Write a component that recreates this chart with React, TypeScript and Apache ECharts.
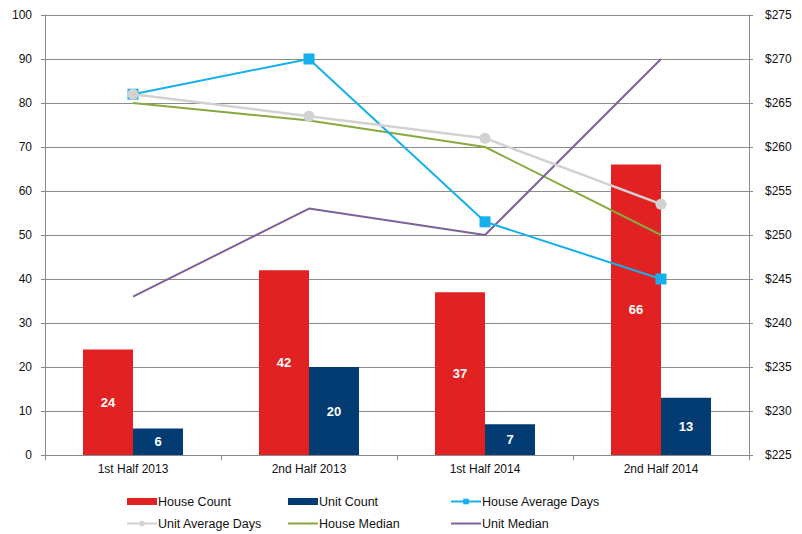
import React, { useEffect, useRef } from "react";
import * as echarts from "echarts";

const categories = ["1st Half 2013", "2nd Half 2013", "1st Half 2014", "2nd Half 2014"];
const houseCount = [24, 42, 37, 66];
const unitCount = [6, 20, 7, 13];
const houseAvgDays = [82, 90, 53, 40];
const unitAvgDays = [82, 77, 72, 57];
const houseMedian = [265, 263, 260, 250];
const unitMedian = [243, 253, 250, 270];

const FONT = "Liberation Sans, Arial, sans-serif";
const LINE_ICON = "path://M0,0h30v2h-30z";

export default function App() {
  const ref = useRef<HTMLDivElement>(null);
  useEffect(() => {
    if (!ref.current) return;
    const chart = echarts.init(ref.current, undefined, { renderer: "svg" });
    const labelStyle = {
      show: true,
      position: "inside",
      color: "#fff",
      fontWeight: "bold",
      fontSize: 13,
      fontFamily: FONT,
    };
    const legendCommon = {
      orient: "vertical",
      top: 495,
      itemGap: 9,
      itemWidth: 30,
      itemHeight: 7,
      textStyle: { fontSize: 12.5, color: "#111", fontFamily: FONT, padding: [0, 0, 0, -4] },
      padding: 0,
    };
    chart.setOption({
      animation: false,
      textStyle: { fontFamily: FONT },
      grid: { left: 45, right: 53, top: 15, bottom: 79, containLabel: false },
      legend: [
        { ...legendCommon, left: 126, data: [{ name: "House Count", icon: "rect" }, { name: "Unit Average Days" }] },
        { ...legendCommon, left: 288, data: [{ name: "Unit Count", icon: "rect" }, { name: "House Median", icon: LINE_ICON }] },
        { ...legendCommon, left: 450, data: [{ name: "House Average Days" }, { name: "Unit Median", icon: LINE_ICON }] },
      ],
      xAxis: {
        type: "category",
        data: categories,
        axisLine: { lineStyle: { color: "#888", width: 1 } },
        axisTick: { show: true, length: 5, lineStyle: { color: "#888" } },
        axisLabel: { color: "#111", fontSize: 12, margin: 8, fontFamily: FONT },
      },
      yAxis: [
        {
          type: "value",
          min: 0,
          max: 100,
          interval: 10,
          axisLine: { show: true, lineStyle: { color: "#888" } },
          axisTick: { show: true, length: 4, lineStyle: { color: "#888" } },
          axisLabel: { color: "#111", fontSize: 12, margin: 13, fontFamily: FONT },
          splitLine: { show: true, lineStyle: { color: "#8c8c8c", width: 1 } },
        },
        {
          type: "value",
          min: 225,
          max: 275,
          interval: 5,
          position: "right",
          axisLine: { show: true, lineStyle: { color: "#888" } },
          axisTick: { show: true, length: 4, lineStyle: { color: "#888" } },
          axisLabel: { color: "#111", fontSize: 12, margin: 16, fontFamily: FONT, formatter: (v: number) => "$" + v },
          splitLine: { show: false },
        },
      ],
      series: [
        {
          name: "House Count",
          type: "bar",
          data: houseCount,
          barWidth: 50,
          barGap: "0%",
          itemStyle: { color: "#e22222" },
          label: labelStyle,
        },
        {
          name: "Unit Count",
          type: "bar",
          data: unitCount,
          barWidth: 50,
          barGap: "0%",
          itemStyle: { color: "#033b73" },
          label: labelStyle,
        },
        {
          name: "House Average Days",
          type: "line",
          data: houseAvgDays,
          symbol: "rect",
          symbolSize: 11,
          lineStyle: { color: "#14b0ec", width: 2 },
          itemStyle: { color: "#14b0ec" },
          z: 4,
        },
        {
          name: "Unit Average Days",
          type: "line",
          data: unitAvgDays,
          symbol: "circle",
          symbolSize: 11,
          lineStyle: { color: "#d2d2d2", width: 2.5 },
          itemStyle: { color: "#d2d2d2" },
          z: 5,
        },
        {
          name: "House Median",
          type: "line",
          yAxisIndex: 1,
          data: houseMedian,
          symbol: "none",
          lineStyle: { color: "#88a93e", width: 2 },
          itemStyle: { color: "#88a93e" },
          z: 3,
        },
        {
          name: "Unit Median",
          type: "line",
          yAxisIndex: 1,
          data: unitMedian,
          symbol: "none",
          lineStyle: { color: "#7d619d", width: 2 },
          itemStyle: { color: "#7d619d" },
          z: 3,
        },
      ],
    });
    return () => chart.dispose();
  }, []);
  return (
    <div
      ref={ref}
      style={{ position: "absolute", left: 0, top: 0, width: 802, height: 534, background: "#fff" }}
    />
  );
}
